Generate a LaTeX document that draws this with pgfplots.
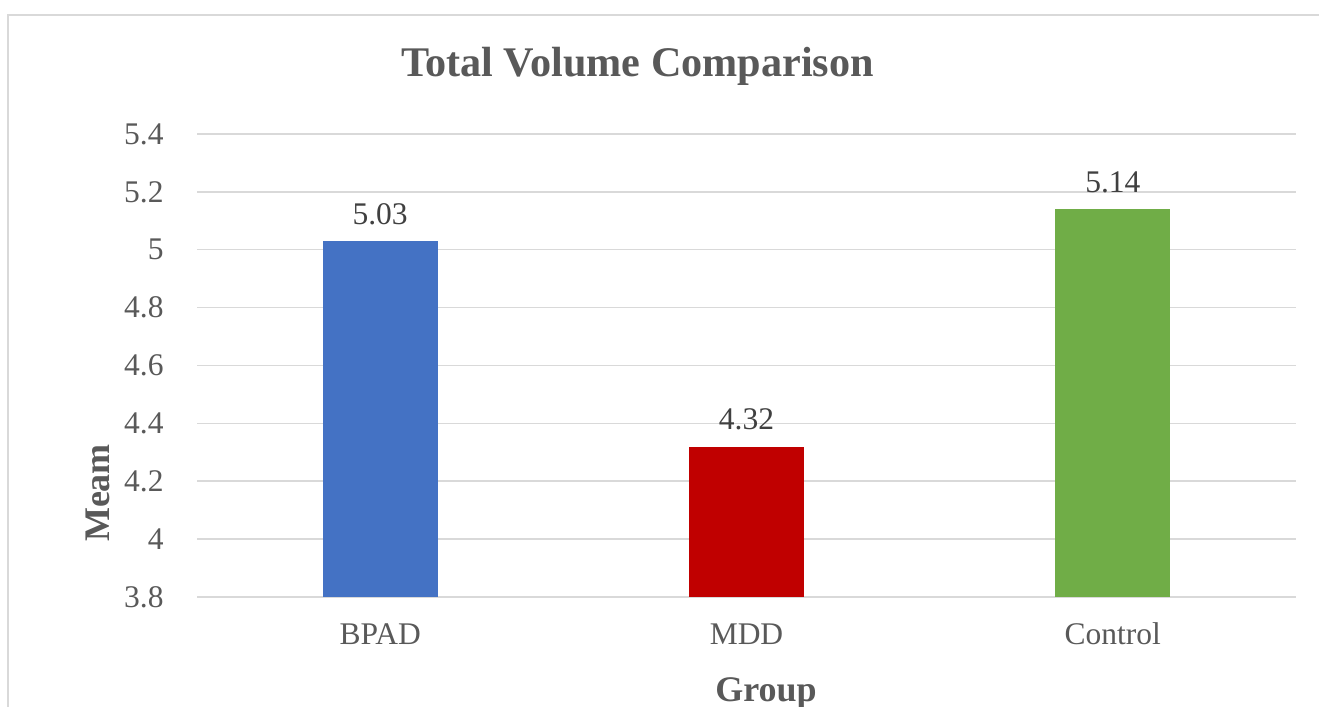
\documentclass[border=0pt]{standalone}
\usepackage{pgfplots}
\pgfplotsset{compat=1.18}
\usepackage{fontspec}
\setmainfont{Liberation Serif}
\newfontfamily\ser{Liberation Serif}
\definecolor{txt}{HTML}{595959}
\definecolor{lbl}{HTML}{404040}
\definecolor{gridc}{HTML}{D9D9D9}
\definecolor{cb}{HTML}{4472C4}
\definecolor{cr}{HTML}{C00000}
\definecolor{cg}{HTML}{70AD47}
\begin{document}
\begin{tikzpicture}
\useasboundingbox (0,0) rectangle (659.5pt,353.5pt);
\fill[white] (0,0) rectangle (659.5pt,353.5pt);
\draw[gridc, line width=0.75pt] (4pt,-1pt) -- (4pt,346pt) -- (661pt,346pt);
\begin{axis}[
  at={(98.5pt,55pt)}, anchor=south west,
  scale only axis, width=549.5pt, height=231.5pt,
  xmin=-0.5, xmax=2.5, ymin=3.8, ymax=5.4,
  ytick={3.8,4.0,4.2,4.4,4.6,4.8,5.0,5.2,5.4},
  yticklabels={3.8,4,4.2,4.4,4.6,4.8,5,5.2,5.4},
  xtick={0,1,2}, xticklabels={BPAD,MDD,Control},
  major tick length=0pt,
  axis line style={draw=none},
  ymajorgrids, grid style={gridc, line width=0.75pt},
  /pgf/number format/assume math mode=true,
  tick label style={font=\ser\fontsize{15.75pt}{18pt}\selectfont, text=txt, inner sep=0pt},
  yticklabel style={anchor=east, xshift=-16.5pt},
  xticklabel style={anchor=base, yshift=-24pt},
  title={Total Volume Comparison},
  title style={at={(axis description cs:0.4008,1.099)}, anchor=base, font=\ser\bfseries\fontsize{21.1pt}{24pt}\selectfont, text=txt, inner sep=0pt},
  xlabel={Group},
  xlabel style={at={(axis description cs:0.5177,-0.2250)}, anchor=base, font=\ser\bfseries\fontsize{18pt}{21pt}\selectfont, text=txt, inner sep=0pt},
  ylabel={Meam},
  ylabel style={at={(axis description cs:-0.0800,0.2246)}, anchor=base, font=\ser\bfseries\fontsize{18pt}{21pt}\selectfont, text=txt, inner sep=0pt},
  ybar, bar width=57.5pt, bar shift=0pt,
  nodes near coords,
  every node near coord/.append style={font=\ser\fontsize{15.75pt}{18pt}\selectfont, text=lbl, inner sep=0pt, anchor=base, yshift=8.5pt},
]
\addplot[fill=cb, draw=none] coordinates {(0,5.03)};
\addplot[fill=cr, draw=none] coordinates {(1,4.32)};
\addplot[fill=cg, draw=none] coordinates {(2,5.14)};
\end{axis}
\end{tikzpicture}
\end{document}
